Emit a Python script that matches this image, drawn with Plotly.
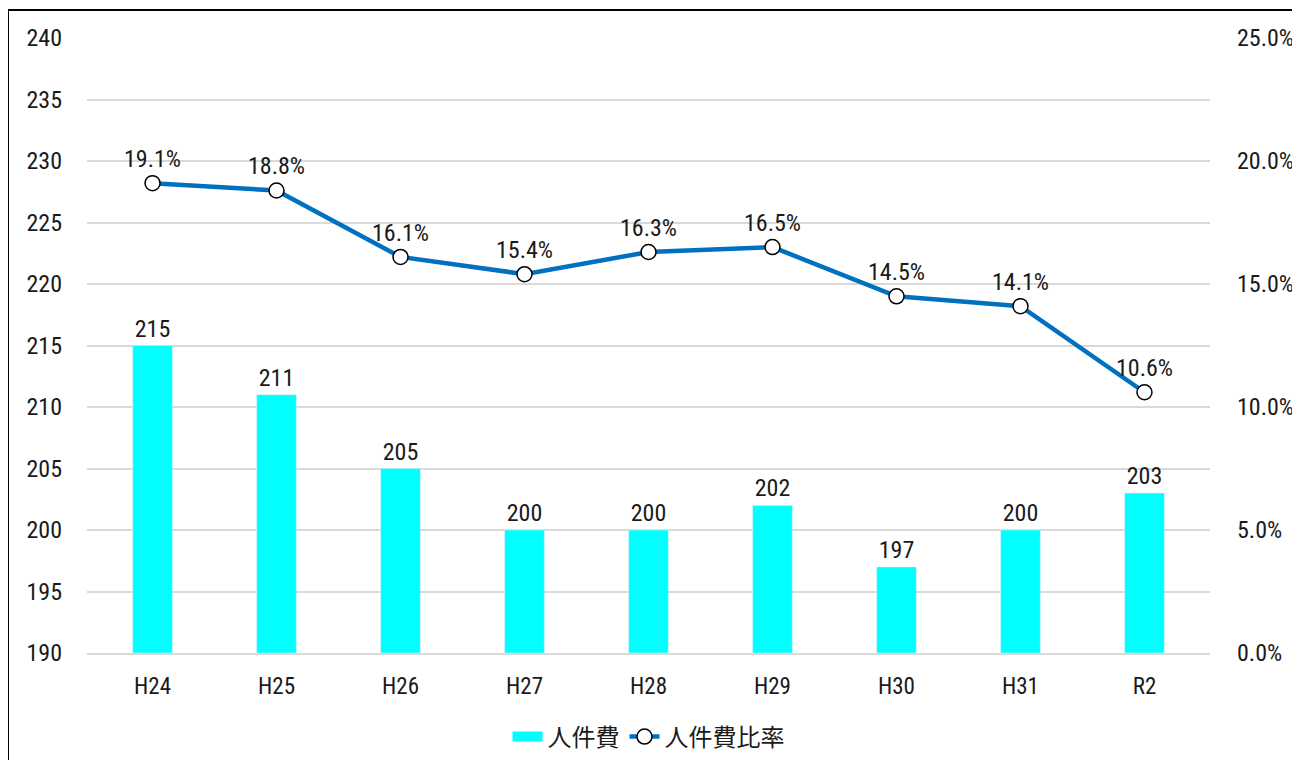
import plotly.graph_objects as go

categories = ["H24", "H25", "H26", "H27", "H28", "H29", "H30", "H31", "R2"]
personnel_cost = [215, 211, 205, 200, 200, 202, 197, 200, 203]
cost_ratio = [19.1, 18.8, 16.1, 15.4, 16.3, 16.5, 14.5, 14.1, 10.6]
left_ticks = [190, 195, 200, 205, 210, 215, 220, 225, 230, 235, 240]
right_ticks = [0, 5, 10, 15, 20, 25]

FONT = "Roboto Condensed, Noto Sans CJK JP, sans-serif"
CJK = "Noto Sans CJK JP, sans-serif"
TXT = "#1a1a1a"

fig = go.Figure()
fig.add_trace(go.Bar(
    x=categories, y=[v - 190 for v in personnel_cost], base=190,
    name="人件費", marker_color="#00FFFF", showlegend=False,
    text=[str(v) for v in personnel_cost], textposition="outside",
    textfont=dict(size=24, color=TXT, family=FONT),
    cliponaxis=False, hoverinfo="skip",
))
# legend swatch for the bars (wide cyan block as in the reference)
fig.add_trace(go.Scatter(
    x=[None], y=[None], name="人件費", mode="lines",
    line=dict(color="#00FFFF", width=13),
))
fig.add_trace(go.Scatter(
    x=categories, y=cost_ratio, yaxis="y2", name="人件費比率",
    mode="lines+markers+text",
    line=dict(color="#0070C0", width=4.5),
    marker=dict(symbol="circle", size=15, color="white", line=dict(color="black", width=1.5)),
    text=[f"{v:.1f}%" for v in cost_ratio], textposition="top center",
    textfont=dict(size=24, color=TXT, family=FONT),
    cliponaxis=False,
))

# page body has an 8px margin: figure coordinates = screen - 8
FW, FH = 1292, 752
x0 = 79; x1 = 1202; y0 = 30; y1 = 645
W = x1 - x0; H = y1 - y0
def px(x): return (x - x0) / W
def py(y): return 1 - (y - y0) / H

fig.update_layout(
    width=FW, height=FH,
    margin=dict(l=x0, r=FW - x1, t=y0, b=FH - y1, autoexpand=False),
    paper_bgcolor="white", plot_bgcolor="white",
    bargap=0.68,
    font=dict(family=FONT, size=24, color=TXT),
    xaxis=dict(showgrid=False, showline=True, linecolor="#d9d9d9", linewidth=1.5,
               ticks="", tickfont=dict(size=23, family=FONT, color=TXT), ticklabelstandoff=12),
    yaxis=dict(range=[190, 240], tickvals=left_ticks, showgrid=True, gridcolor="#d9d9d9",
               gridwidth=1.5, zeroline=False, ticks="", tickfont=dict(size=24, family=FONT, color=TXT),
               ticklabelstandoff=24),
    yaxis2=dict(range=[0, 25], tickvals=right_ticks, ticktext=[f"{v:.1f}%" for v in right_ticks],
                overlaying="y", side="right", showgrid=False, zeroline=False, ticks="",
                tickfont=dict(size=24, family=FONT, color=TXT), ticklabelstandoff=26),
    legend=dict(orientation="h", x=0.5, xanchor="center", y=py(729), yanchor="middle",
                font=dict(size=24, family=CJK, color=TXT), traceorder="normal"),
    showlegend=True,
    shapes=[
        dict(type="line", xref="paper", yref="paper", x0=px(0), x1=px(FW + 5), y0=py(2), y1=py(2),
             line=dict(color="black", width=2)),
        dict(type="line", xref="paper", yref="paper", x0=px(0), x1=px(0), y0=py(2), y1=py(FH + 5),
             line=dict(color="black", width=2)),
    ],
)

fig.write_html("out.html")
